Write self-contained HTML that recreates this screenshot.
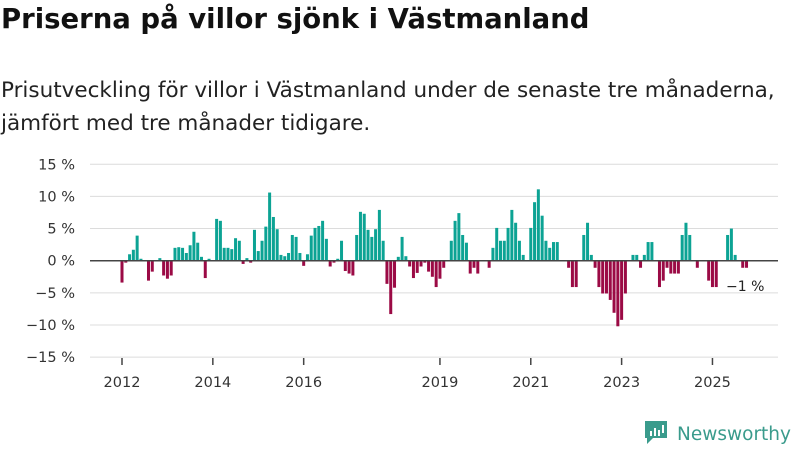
<!DOCTYPE html>
<html><head><meta charset="utf-8"><style>
body{margin:0;width:800px;height:450px;background:#fff;font-family:"DejaVu Sans","Liberation Sans",sans-serif;overflow:hidden;position:relative}
#title{position:absolute;left:1px;top:3px;font-size:27.5px;font-weight:bold;color:#111;margin:0;white-space:nowrap}
#sub{position:absolute;left:1px;top:74px;font-size:21.5px;color:#222;line-height:33px;margin:0;white-space:nowrap}
svg{position:absolute;left:0;top:0}
</style></head><body>
<h1 id="title">Priserna på villor sjönk i Västmanland</h1>
<p id="sub">Prisutveckling för villor i Västmanland under de senaste tre månaderna,<br>jämfört med tre månader tidigare.</p>
<svg id="chart" width="800" height="450"></svg>
<script>
const yTicks=[15,10,5,0,-5,-10,-15];
const yTickLabels=["15 %","10 %","5 %","0 %","−5 %","−10 %","−15 %"];
const yearLabels=["2012","2014","2016","2019","2021","2023","2025"];
const yearMonths=[0,24,48,84,108,132,156];
const values=[-3.4,-0.3,1.0,1.7,3.9,0.3,0,-3.1,-1.7,0,0.4,-2.3,-2.8,-2.3,2.0,2.1,2.0,1.2,2.4,4.5,2.8,0.6,-2.7,0.3,0,6.5,6.2,2.0,2.0,1.8,3.5,3.1,-0.5,0.4,-0.3,4.8,1.5,3.1,5.3,10.6,6.8,4.9,0.9,0.7,1.2,4.0,3.7,1.2,-0.8,1.0,3.9,5.1,5.4,6.2,3.4,-0.9,
-0.3,0.3,3.1,-1.6,-2.0,-2.3,4.0,7.6,7.3,4.8,3.7,4.9,7.9,3.1,-3.6,-8.3,-4.2,0.6,3.7,0.7,-0.9,-2.7,-1.9,-0.9,-0.3,-1.7,-2.5,-4.1,-2.8,-1.1,0,3.1,6.2,7.4,4.0,2.8,-2.0,-1.1,-2.0,0,0,-1.1,
2.0,5.1,3.1,3.1,5.1,7.9,5.9,3.1,0.9,0,5.1,9.1,11.1,7.0,3.1,
2.0,2.9,2.9,0,0,-1.1,-4.1,-4.1,0,4.0,5.9,0.9,-1.1,-4.1,-5.1,-5.1,-6.1,-8.1,-10.2,-9.2,-5.1,0,0.9,0.9,-1.1,0.9,2.9,2.9,0,-4.1,-3.1,-1.1,-2.0,-2.0,-2.0,4.0,5.9,4.0,0,-1.1,0,0,-3.1,-4.1,-4.1,0,0,4.0,5.0,0.9,0,-1.1,-1.1];
const lastLabel="−1 %";

const NS="http://www.w3.org/2000/svg";
const svg=document.getElementById('chart');
const FONT='DejaVu Sans, Liberation Sans, sans-serif';
function y(v){return 260.7-v*6.43;}
function x(m){return 122+m*3.785;}
function mk(t,a,p){const e=document.createElementNS(NS,t);for(const k in a)e.setAttribute(k,a[k]);(p||svg).appendChild(e);return e;}
yTicks.forEach((v,i)=>{
  const g=mk('line',{x1:90,x2:778,y1:y(v),y2:y(v),stroke:'#dcdcdc','stroke-width':1});
  
  
  const t=mk('text',{x:75,y:y(v)+5,'text-anchor':'end','font-size':14.5,fill:'#333','font-family':FONT});
  t.textContent=yTickLabels[i];
  
  
});
yearMonths.forEach((m,i)=>{
  const tk=mk('line',{x1:x(m),x2:x(m),y1:358,y2:365,stroke:'#444','stroke-width':1.5});
  
  
  const t=mk('text',{x:x(m),y:387,'text-anchor':'middle','font-size':14.5,fill:'#333','font-family':FONT});
  t.textContent=yearLabels[i];
  
  
});
values.forEach((v,m)=>{
  if(v===0)return;
  const top=Math.min(y(v),y(0)),h=Math.abs(y(v)-y(0));
  const r=mk('rect',{x:x(m)-1.5,y:top,width:3,height:h,fill:v>0?'#0ca394':'#9b0a45'});
  
  
});
const z=mk('line',{x1:90,x2:778,y1:y(0),y2:y(0),stroke:'#444','stroke-width':1.5});


const lt=mk('text',{x:726,y:291,'font-size':14,fill:'#222','font-family':FONT});
lt.textContent=lastLabel;


const lg=mk('g',{});


mk('path',{d:'M645 421 h22 v17 h-14 l-6 6 v-6 h-2 z',fill:'#3a9b8c'},lg);
mk('rect',{x:650,y:431,width:2,height:5,fill:'#fff'},lg);
mk('rect',{x:654,y:428,width:2,height:8,fill:'#fff'},lg);
mk('rect',{x:658,y:430,width:2,height:6,fill:'#fff'},lg);
mk('rect',{x:662,y:425,width:2,height:8,fill:'#fff'},lg);
const lx=mk('text',{x:677,y:440,'font-size':18.5,fill:'#3a9b8c','font-family':FONT},lg);
lx.textContent='Newsworthy';
</script>
</body></html>
